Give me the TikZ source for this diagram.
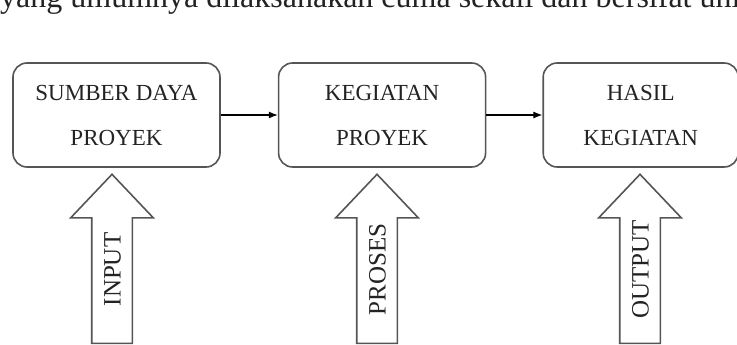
\documentclass[tikz,border=0pt]{standalone}
\usepackage{fontspec}
\setmainfont{Liberation Serif}
\usetikzlibrary{arrows, arrows.meta, positioning, shapes, shapes.arrows}
\definecolor{boxline}{RGB}{85,85,85}
\definecolor{ink}{RGB}{35,35,35}

\begin{document}
\begin{tikzpicture}[x=1pt, y=-1pt, node distance = 57pt, auto]
  \tikzstyle{block} = [rectangle, draw=boxline, line width=1.6pt, text=ink,
      align=center, rounded corners=14pt, minimum width=207pt, minimum height=104pt,
      font=\fontsize{23}{45}\selectfont]
  \tikzstyle{line} = [draw, line width=1.1pt, -{Latex[length=9pt,width=7pt]}]
  \tikzstyle{bigarrow} = [single arrow, draw=boxline, line width=1.6pt, rotate=90,
      text=ink, font=\fontsize{25}{25}\selectfont, text height=17pt, text depth=0pt,
      inner ysep=11pt, inner xsep=0pt, minimum height=169pt,
      single arrow head extend=21pt, single arrow tip angle=87,
      single arrow head indent=0pt]
  \useasboundingbox (0,0) rectangle (737,345);
      % Text above
      \node [anchor=base west, inner sep=0pt, text=ink, font=\fontsize{32}{32}\selectfont] (para)
          at (0,8) {yang umumnya dilaksanakan cuma sekali dan bersifat unik};
      % Place nodes
      \node [block] (sumber) at (116.5,115) {SUMBER DAYA\\PROYEK};
      \node [block, right=of sumber] (kegiatan) {KEGIATAN\\PROYEK};
      \node [block, right=56pt of kegiatan, minimum width=195pt] (hasil) {HASIL\\KEGIATAN};
      \node [bigarrow] (input) at (112,269.5) {INPUT};
      \node [bigarrow] (proses) at (377,269.5) {PROSES};
      \node [bigarrow] (output) at (640,269.5) {OUTPUT};

  %paths
      \path [line] (sumber) -- (kegiatan);
      \path [line] (kegiatan) -- (hasil);

\end{tikzpicture}
\end{document}
